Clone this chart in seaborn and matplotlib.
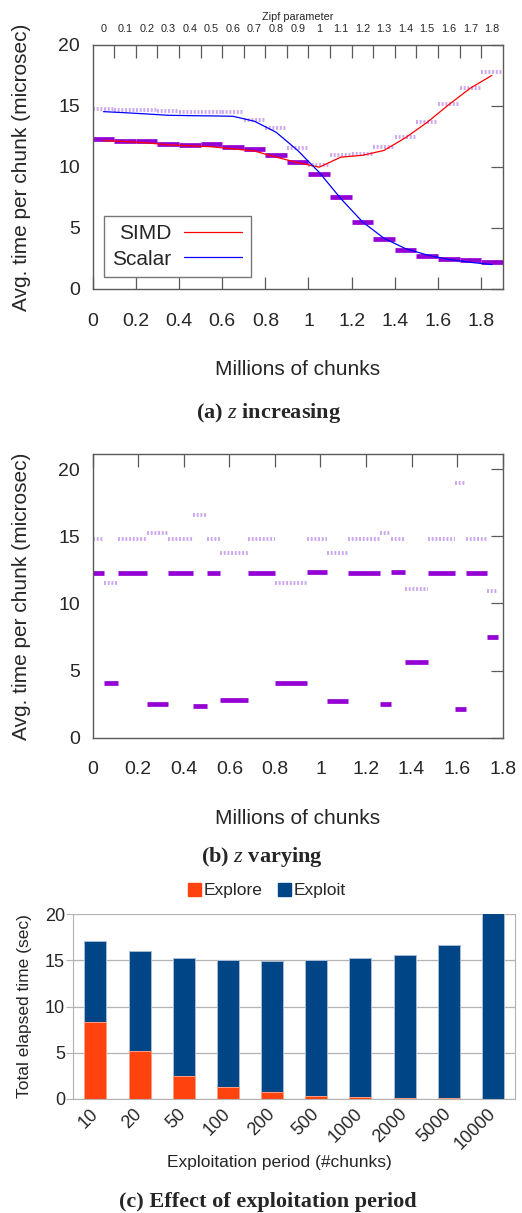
import seaborn as sns
import pandas as pd
import matplotlib.pyplot as plt
from matplotlib.patches import Patch
import numpy as np

# ---- (a) z increasing: each Zipf value runs for 0.1 million chunks ----
zipf = [0, 0.1, 0.2, 0.3, 0.4, 0.5, 0.6, 0.7, 0.8, 0.9,
        1.0, 1.1, 1.2, 1.3, 1.4, 1.5, 1.6, 1.7, 1.8]
simd_avg = [12.16, 12.08, 11.97, 11.81, 11.73, 11.65, 11.48, 11.3, 10.8, 10.35,
            9.98, 10.8, 10.95, 11.35, 12.4, 13.65, 15.1, 16.45, 17.5]
scalar_avg = [14.53, 14.44, 14.34, 14.23, 14.2, 14.18, 14.15, 13.74, 12.84, 11.35,
              9.55, 7.4, 5.5, 4.15, 3.3, 2.78, 2.42, 2.18, 2.0]
chosen_a = [12.25, 12.12, 12.1, 11.86, 11.8, 11.9, 11.65, 11.5, 11.0, 10.4,
            9.45, 7.5, 5.5, 4.1, 3.15, 2.7, 2.45, 2.35, 2.2]
probe_a = [14.75, 14.7, 14.65, 14.56, 14.53, 14.53, 14.48, 13.88, 13.17, 11.57,
           10.18, 11.0, 11.05, 11.6, 12.43, 13.66, 15.16, 16.46, 17.74]

# ---- (b) z varying: segment edges in millions of chunks ----
b_edges = [0, 0.05, 0.11, 0.24, 0.33, 0.44, 0.50, 0.56, 0.68, 0.80, 0.94,
           1.03, 1.12, 1.26, 1.31, 1.37, 1.47, 1.59, 1.64, 1.73, 1.78]
chosen_b = [12.3, 4.05, 12.3, 2.51, 12.3, 2.36, 12.3, 2.8, 12.3, 4.09,
            12.35, 2.75, 12.3, 2.53, 12.35, 5.61, 12.3, 2.11, 12.3, 7.51]
probe_b = [14.83, 11.53, 14.83, 15.25, 14.8, 16.6, 14.8, 13.79, 14.8, 11.53,
           14.8, 13.74, 14.8, 15.28, 14.8, 11.11, 14.8, 18.97, 14.8, 10.94]

# ---- (c) effect of exploitation period ----
periods = ['10', '20', '50', '100', '200', '500', '1000', '2000', '5000', '10000']
explore = [8.35, 5.17, 2.46, 1.3, 0.69, 0.29, 0.14, 0.07, 0.03, 0.01]
exploit = [8.75, 10.88, 12.79, 13.7, 14.24, 14.75, 15.11, 15.54, 16.68, 20.3]

GRAY = '#5a5a5a'
DARK = '#9400d3'
LIGHT = '#b27ae6'
SPECKLE = (0, (0.5, 0.45))

sns.set_style('white')
plt.rcParams['font.family'] = ['Liberation Sans', 'DejaVu Sans']
plt.rcParams['mathtext.fontset'] = 'custom'
plt.rcParams['mathtext.it'] = 'Liberation Serif:italic'
plt.rcParams['mathtext.rm'] = 'Liberation Serif:bold'


def segments(starts, ends, values):
    rows = []
    for i, (s, e, v) in enumerate(zip(starts, ends, values)):
        rows.append((i, s, v))
        rows.append((i, e, v))
    return pd.DataFrame(rows, columns=['seg', 'x', 'y'])


def draw_segments(ax, df, color, lw, ls='-', alpha=1.0):
    sns.lineplot(data=df, x='x', y='y', units='seg', estimator=None,
                 color=color, lw=lw, ls=ls, alpha=alpha, legend=False, ax=ax,
                 solid_capstyle='butt', dash_capstyle='butt')


def gnuplot_style(ax, xmax, ymax, top_ticks=True):
    for s in ax.spines.values():
        s.set_color(GRAY)
        s.set_linewidth(1)
    ax.set_xlim(0, xmax)
    ax.set_ylim(0, ymax)
    xt = [0, 0.2, 0.4, 0.6, 0.8, 1.0, 1.2, 1.4, 1.6, 1.8]
    ax.set_xticks(xt, [f'{v:g}' for v in xt])
    ax.set_yticks([0, 5, 10, 15, 20])
    ax.tick_params(axis='both', direction='in', length=9, width=0.9, color=GRAY,
                   labelsize=14, right=True, top=top_ticks)
    ax.tick_params(axis='x', pad=17)
    ax.tick_params(axis='y', pad=9)
    ax.set_xlabel('Millions of chunks', fontsize=15, labelpad=22)
    ax.set_ylabel('Avg. time per chunk (microsec)', fontsize=15, labelpad=20)
    ax.grid(False)


fig = plt.figure(figsize=(5.22, 12.13), dpi=100)

# ---------------- (a) ----------------
ax_a = fig.add_axes([0.1776, 0.7618, 0.7854, 0.2012])
a_start = list(zipf)                       # z = 0.1 per 0.1M chunks
a_end = [z + 0.1 for z in zipf]
a_mid = [z + 0.05 for z in zipf]
draw_segments(ax_a, segments(a_start, a_end, probe_a), LIGHT, 2.8, SPECKLE, 0.65)
draw_segments(ax_a, segments(a_start, a_end, chosen_a), DARK, 3.4)
sns.lineplot(x=a_mid, y=simd_avg, color='#ff0000', lw=0.9, label='SIMD', ax=ax_a)
sns.lineplot(x=a_mid, y=scalar_avg, color='#0000ff', lw=0.9, label='Scalar', ax=ax_a)
gnuplot_style(ax_a, 1.9, 20, top_ticks=False)
ax_a.legend(loc='lower left', bbox_to_anchor=(0.0276, 0.049), borderaxespad=0,
            markerfirst=False, fancybox=False, edgecolor='#777777', framealpha=1,
            fontsize=15, handlelength=2.8, handletextpad=0.6, borderpad=0.4,
            labelspacing=0.3)

top = ax_a.twiny()
top.set_xlim(0, 1.9)
top.set_xticks(a_mid, [f'{z:g}' for z in zipf])
top.set_xticks(a_end[:-1], minor=True)
top.tick_params(axis='x', which='major', length=0, labelsize=7.8, pad=8)
top.tick_params(axis='x', which='minor', direction='in', length=9, width=0.9, color=GRAY)
top.set_xlabel('Zipf parameter', fontsize=7.8, labelpad=3)
for s in top.spines.values():
    s.set_visible(False)

# ---------------- (b) ----------------
ax_b = fig.add_axes([0.1776, 0.3918, 0.7854, 0.2336])
draw_segments(ax_b, segments(b_edges[:-1], b_edges[1:], probe_b), LIGHT, 2.8, SPECKLE, 0.65)
draw_segments(ax_b, segments(b_edges[:-1], b_edges[1:], chosen_b), DARK, 3.4)
gnuplot_style(ax_b, 1.8, 21.1)

# ---------------- (c) ----------------
ax_c = fig.add_axes([0.1404, 0.0942, 0.8462, 0.1520])
totals = [e + x for e, x in zip(explore, exploit)]
sns.barplot(x=periods, y=totals, color='#004586', saturation=1, width=0.5,
            edgecolor='#a8bcd4', linewidth=0.7, ax=ax_c)
sns.barplot(x=periods, y=explore, color='#ff420e', saturation=1, width=0.5,
            edgecolor='#ffa080', linewidth=0.7, ax=ax_c)
ax_c.set_ylim(0, 20)
ax_c.set_xlim(-0.5, 9.5)
ax_c.set_yticks([0, 5, 10, 15, 20])
ax_c.grid(axis='y', color='#b3b3b3', lw=0.9)
ax_c.set_axisbelow(True)
for name, s in ax_c.spines.items():
    s.set_color('#b3b3b3')
    s.set_visible(name != 'top')
ax_c.set_xticks(range(len(periods)), periods, rotation=45, ha='right',
                va='center', rotation_mode='anchor')
ax_c.set_xticks(np.arange(-0.5, len(periods), 1), minor=True)
ax_c.tick_params(axis='x', which='major', length=0, pad=9, labelsize=13)
ax_c.tick_params(axis='x', which='minor', length=4, color='#b3b3b3', direction='out')
ax_c.tick_params(axis='y', length=5, color='#b3b3b3', direction='out', pad=1,
                 labelsize=13, left=True)
ax_c.set_ylabel('Total elapsed time (sec)', fontsize=12.5, labelpad=9)
ax_c.set_xlabel('Exploitation period (#chunks)', fontsize=12.5, labelpad=2)
ax_c.xaxis.set_label_coords(0.466, -0.305)
ax_c.legend(handles=[Patch(color='#ff420e', label='Explore'),
                     Patch(color='#004586', label='Exploit')],
            loc='center', bbox_to_anchor=(0.512, 0.2657), bbox_transform=fig.transFigure,
            ncol=2, frameon=False, fontsize=12.5, handlelength=0.75, handleheight=0.75,
            handletextpad=0.15, columnspacing=0.9)

# captions
cap = dict(ha='center', va='center', fontsize=16, fontweight='bold',
           family=['Liberation Serif', 'DejaVu Serif'])
fig.text(0.5144, 1 - 413 / 1213, r'(a) $z$ increasing', **cap)
fig.text(0.502, 1 - 856.7 / 1213, r'(b) $z$ varying', **cap)
fig.text(0.5125, 1 - 1201.7 / 1213, '(c) Effect of exploitation period', **cap)

fig.savefig('out.png', dpi=100)
